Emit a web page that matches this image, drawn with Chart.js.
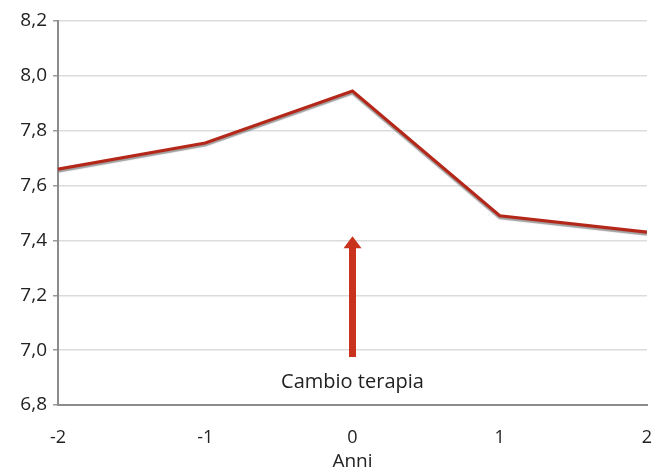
<!DOCTYPE html>
<html>
<head>
<meta charset="utf-8">
<script src="https://cdn.jsdelivr.net/npm/chart.js@4/dist/chart.umd.min.js"></script>
<style>
  html, body { margin: 0; padding: 0; background: #fff; }
  #wrap { width: 657px; height: 473px; }
</style>
</head>
<body>
<div id="wrap"><canvas id="c" width="657" height="473"></canvas></div>
<script>
const years = [-2, -1, 0, 1, 2];
const values = [7.66, 7.755, 7.945, 7.49, 7.43];
const yTicks = [6.8, 7.0, 7.2, 7.4, 7.6, 7.8, 8.0, 8.2];

// arrow marking the therapy change
const arrowX = 0;
const arrowFrom = 6.975;
const arrowTo = 7.415;
const arrowLabel = "Cambio terapia";

const fmt = v => v.toFixed(1).replace(".", ",");
const FONT = "'Open Sans', sans-serif";

const arrowPlugin = {
  id: "arrow",
  afterDatasetsDraw(chart) {
    const { ctx, scales: { x, y } } = chart;
    const px = x.getPixelForValue(arrowX);
    const y0 = y.getPixelForValue(arrowFrom);
    const y1 = y.getPixelForValue(arrowTo);
    ctx.save();
    ctx.fillStyle = "#c9321c";
    ctx.fillRect(px - 3.5, y1 + 10, 7, y0 - y1 - 10);
    ctx.beginPath();
    ctx.moveTo(px, y1);
    ctx.lineTo(px + 9, y1 + 12);
    ctx.lineTo(px - 9, y1 + 12);
    ctx.closePath();
    ctx.fill();
    ctx.fillStyle = "#222";
    ctx.font = "20px " + FONT;
    ctx.textAlign = "center";
    ctx.textBaseline = "middle";
    ctx.fillText(arrowLabel, px, y0 + 25);
    ctx.restore();
  }
};

const shadowPlugin = {
  id: "shadow",
  beforeDatasetDraw(chart) {
    const ctx = chart.ctx;
    ctx.save();
    ctx.shadowColor = "rgba(120,120,120,0.7)";
    ctx.shadowOffsetX = 0;
    ctx.shadowOffsetY = 2;
    ctx.shadowBlur = 1;
  },
  afterDatasetDraw(chart) {
    chart.ctx.restore();
  }
};

new Chart(document.getElementById("c"), {
  type: "line",
  data: {
    datasets: [{
      data: years.map((x, i) => ({ x, y: values[i] })),
      borderColor: "#b4281a",
      borderWidth: 3.2,
      pointRadius: 0,
      tension: 0,
      fill: false
    }]
  },
  options: {
    responsive: false,
    animation: false,
    layout: { padding: { top: 21, right: 10, left: 10, bottom: 0 } },
    plugins: { legend: { display: false }, tooltip: { enabled: false } },
    scales: {
      x: {
        type: "linear",
        min: -2,
        max: 2,
        ticks: {
          stepSize: 1,
          color: "#222",
          font: { size: 18, family: FONT },
          padding: 18
        },
        grid: { display: false, drawTicks: true, tickLength: 4, tickColor: "#999" },
        border: { color: "#8c8c8c", width: 2 },
        title: {
          display: true,
          text: "Anni",
          color: "#222",
          font: { size: 19, family: FONT },
          padding: { top: 0, bottom: 0 }
        },
        afterFit(s) {
          s.height = 68;
          s.paddingRight = 0;
          s.paddingLeft = 0;
        }
      },
      y: {
        min: 6.8,
        max: 8.2,
        afterBuildTicks(s) { s.ticks = yTicks.map(v => ({ value: v })); },
        ticks: {
          color: "#222",
          font: { size: 19, family: FONT },
          padding: 6,
          callback: v => fmt(v)
        },
        grid: { color: "#dcdcdc", lineWidth: 1.5, tickLength: 5, tickColor: "#999" },
        border: { color: "#8c8c8c", width: 2 },
        afterFit(s) { s.width = 48; }
      }
    }
  },
  plugins: [shadowPlugin, arrowPlugin]
});
</script>
</body>
</html>
